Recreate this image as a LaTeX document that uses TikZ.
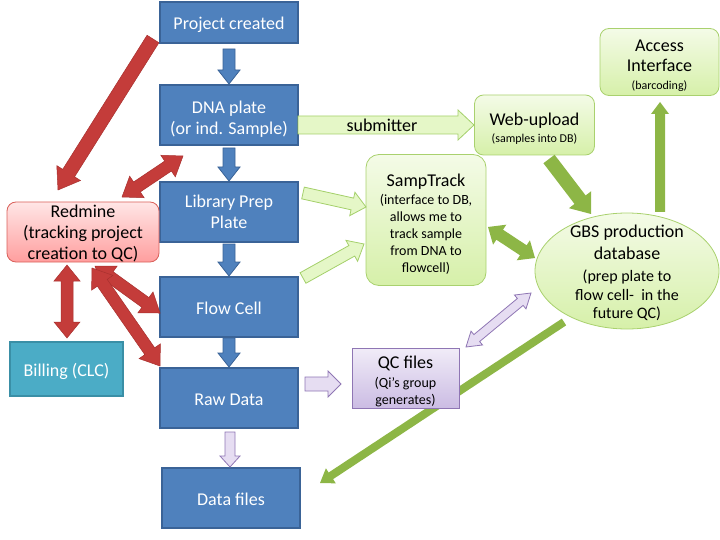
\documentclass[tikz,border=0pt]{standalone}
\usepackage{fontspec}
\setmainfont{Carlito}
\usetikzlibrary{calc,shapes.geometric}
\pgfdeclarelayer{background}
\pgfsetlayers{background,main}

\definecolor{bfill}{HTML}{4F81BD}
\definecolor{bedge}{HTML}{3A6397}
\definecolor{tfill}{HTML}{4BACC6}
\definecolor{tedge}{HTML}{3A8FA6}
\definecolor{rfill}{HTML}{C43C3A}
\definecolor{redge}{HTML}{A8302E}
\definecolor{pinktop}{HTML}{FFE6E6}
\definecolor{pinkbot}{HTML}{FF9E9E}
\definecolor{pinkedge}{HTML}{D9605A}
\definecolor{gtop}{HTML}{F4FBE7}
\definecolor{gbot}{HTML}{D6F0A9}
\definecolor{gedge}{HTML}{A9D16E}
\definecolor{olive}{HTML}{8DB646}
\definecolor{lgfill}{HTML}{E5F7C7}
\definecolor{lgedge}{HTML}{A4D06A}
\definecolor{ptop}{HTML}{F1ECF8}
\definecolor{pbot}{HTML}{CBBCE3}
\definecolor{pedge}{HTML}{8F76B4}
\definecolor{pafill}{HTML}{E6DDF2}

\newcommand\szL{\fontsize{18}{21}\selectfont}
\newcommand\szM{\fontsize{16}{18.5}\selectfont}
\newcommand\szN{\fontsize{14}{17}\selectfont}
\newcommand\szS{\fontsize{12}{14}\selectfont}
\newcommand\tstrut{\rule{0pt}{20pt}}

% single block arrow: #1 style, #2 tail, #3 tip, #4 shaft half width, #5 head half width, #6 head length
\newcommand\blockarr[6]{%
  \coordinate (tmpH) at ($(#3)!#6!(#2)$);
  \path[#1] ($(#2)!#4!90:(#3)$) -- ($(tmpH)!#4!90:(#3)$) -- ($(tmpH)!#5!90:(#3)$)
    -- (#3) -- ($(tmpH)!#5!-90:(#3)$) -- ($(tmpH)!#4!-90:(#3)$) -- ($(#2)!#4!-90:(#3)$) -- cycle;}
% double block arrow
\newcommand\dblockarr[6]{%
  \coordinate (tmpHa) at ($(#2)!#6!(#3)$);
  \coordinate (tmpHb) at ($(#3)!#6!(#2)$);
  \path[#1] (#2) -- ($(tmpHa)!#5!90:(#3)$) -- ($(tmpHa)!#4!90:(#3)$) -- ($(tmpHb)!#4!90:(#3)$)
    -- ($(tmpHb)!#5!90:(#3)$) -- (#3) -- ($(tmpHb)!#5!-90:(#3)$) -- ($(tmpHb)!#4!-90:(#3)$)
    -- ($(tmpHa)!#4!-90:(#3)$) -- ($(tmpHa)!#5!-90:(#3)$) -- cycle;}

\begin{document}
\begin{tikzpicture}[x=1pt,y=-1pt,
  bluebox/.style={draw=bedge, line width=1.2pt, fill=bfill, text=white, font=\szL,
    minimum width=138pt, minimum height=60pt, inner sep=0pt, align=center},
  oneline/.style={text height=18pt, text depth=3.6pt},
  tealbox/.style={draw=tedge, line width=1.2pt, fill=tfill, text=white, font=\szL,
    minimum width=113pt, minimum height=54pt, inner sep=0pt, align=center},
  greenbox/.style={draw=gedge, line width=0.8pt, top color=gtop, bottom color=gbot,
    rounded corners=9pt, inner sep=0pt, align=center},
  pinkbox/.style={draw=pinkedge, line width=0.8pt, top color=pinktop, bottom color=pinkbot,
    rounded corners=9pt, minimum width=152pt, minimum height=60pt, inner sep=0pt},
  purplebox/.style={draw=pedge, line width=0.8pt, top color=ptop, bottom color=pbot,
    minimum width=107pt, minimum height=60pt, inner sep=0pt, align=center},
  plain/.style={inner sep=0pt, align=center},
  bluearr/.style={draw=bedge, fill=bfill, line width=0.8pt, line join=miter},
  redarr/.style={draw=redge, fill=rfill, line width=0.5pt},
  lgarr/.style={draw=lgedge, fill=lgfill, line width=0.8pt},
  olivearr/.style={fill=olive},
  purarr/.style={draw=pedge, fill=pafill, line width=0.8pt}
]
\useasboundingbox (0,0) rectangle (720,540);

% ---- nodes ----
\node[bluebox, oneline, minimum height=41pt] (proj) at (229,22.5) {Project created};
\node[bluebox] (dna) at (229,115) {\tstrut DNA plate\\(or ind. Sample)};
\node[bluebox] (lib) at (229,212) {Library Prep\\Plate};
\node[bluebox, oneline] (flow) at (229,307) {Flow Cell};
\node[bluebox, oneline] (raw) at (229,398) {Raw Data};
\node[bluebox, oneline] (files) at (231,498) {Data files};

\node[pinkbox] (redmine) at (83,232) {};
\node[plain, font=\szL] (redminet) at (83,233) {Redmine\\(tracking project\\creation to QC)};
\node[tealbox, oneline] (billing) at (66.5,369) {Billing (CLC)};

\node[greenbox, minimum width=120pt, minimum height=60pt, font=\szL] (web) at (534.5,125)
  {\tstrut Web-upload\\[-4pt]\szS (samples into DB)};
\node[greenbox, minimum width=119pt, minimum height=67pt, font=\szL] (access) at (659.5,62)
  {\tstrut Access\\[-1pt]Interface\\[-3pt]\szS (barcoding)};
\node[greenbox, minimum width=120pt, minimum height=131pt, rounded corners=13pt, font=\szN] (samp) at (426,220)
  {\szL\tstrut SampTrack\\[1pt](interface to DB,\\allows me to\\track sample\\from DNA to\\flowcell)};
\node[ellipse, draw=gedge, line width=0.8pt, top color=gtop, bottom color=gbot,
  minimum width=184pt, minimum height=116pt, inner sep=0pt] (gbs) at (627,271) {};
\node[plain, font=\szM] (gbst) at (627,273)
  {\szL GBS production\\[3.5pt]\szL database\\[3.5pt](prep plate to\\flow cell-\ \ in the\\future QC)};

\node[purplebox, font=\szN] (qc) at (405.5,378) {\szL\tstrut QC files\\[2pt](Qi's group\\generates)};

% ---- connector end points ----
\coordinate (b1a) at (229,49);  \coordinate (b1b) at (229,84);
\coordinate (b2a) at (229,148); \coordinate (b2b) at (229,181);
\coordinate (b3a) at (229,244); \coordinate (b3b) at (229,276);
\coordinate (b4a) at (229,338); \coordinate (b4b) at (229,367);
\coordinate (p1a) at (230,432); \coordinate (p1b) at (230,467);
\coordinate (p2a) at (305,384); \coordinate (p2b) at (341,384);
\coordinate (p3a) at (466,347); \coordinate (p3b) at (531,293);
\coordinate (r1a) at (153,39);  \coordinate (r1b) at (58,190);
\coordinate (r2a) at (183,156); \coordinate (r2b) at (122,197);
\coordinate (r3a) at (67,265);  \coordinate (r3b) at (67,338);
\coordinate (r4a) at (95,266);  \coordinate (r4b) at (160,313);
\coordinate (r5a) at (92,268);  \coordinate (r5b) at (160,366);
\coordinate (g1a) at (298,125); \coordinate (g1b) at (474,125);
\coordinate (g2a) at (303,193); \coordinate (g2b) at (366,207);
\coordinate (g3a) at (303,278); \coordinate (g3b) at (364,244);
\coordinate (o1a) at (549,159); \coordinate (o1b) at (591,214);
\coordinate (o2a) at (660,212); \coordinate (o2b) at (660,102);
\coordinate (o3a) at (488,227); \coordinate (o3b) at (535,258);
\coordinate (o4a) at (564,322); \coordinate (o4b) at (320,483);

% ---- connectors ----
\begin{pgfonlayer}{background}
\blockarr{olivearr}{o4a}{o4b}{4pt}{9pt}{13pt}
\end{pgfonlayer}

\blockarr{bluearr}{b1a}{b1b}{6pt}{11pt}{14pt}
\blockarr{bluearr}{b2a}{b2b}{6pt}{11pt}{14pt}
\blockarr{bluearr}{b3a}{b3b}{6pt}{11pt}{14pt}
\blockarr{bluearr}{b4a}{b4b}{6pt}{11pt}{14pt}
\blockarr{purarr}{p1a}{p1b}{5pt}{10pt}{11pt}
\blockarr{purarr}{p2a}{p2b}{7pt}{13pt}{13pt}
\dblockarr{purarr}{p3a}{p3b}{4.5pt}{9pt}{14pt}

\blockarr{redarr}{r1a}{r1b}{7pt}{14pt}{20pt}
\dblockarr{redarr}{r2a}{r2b}{6pt}{13pt}{18pt}
\dblockarr{redarr}{r3a}{r3b}{6pt}{13pt}{16pt}
\dblockarr{redarr}{r4a}{r4b}{6pt}{13pt}{18pt}
\dblockarr{redarr}{r5a}{r5b}{6pt}{13pt}{18pt}

\blockarr{lgarr}{g1a}{g1b}{9pt}{15pt}{16pt}
\blockarr{lgarr}{g2a}{g2b}{6pt}{12pt}{14pt}
\blockarr{lgarr}{g3a}{g3b}{6pt}{12pt}{14pt}
\node[plain, font=\szL] (subm) at (382,125) {submitter};

\blockarr{olivearr}{o1a}{o1b}{7pt}{14pt}{18pt}
\blockarr{olivearr}{o2a}{o2b}{5pt}{9pt}{12pt}
\dblockarr{olivearr}{o3a}{o3b}{6pt}{12pt}{14pt}
\end{tikzpicture}
\end{document}
